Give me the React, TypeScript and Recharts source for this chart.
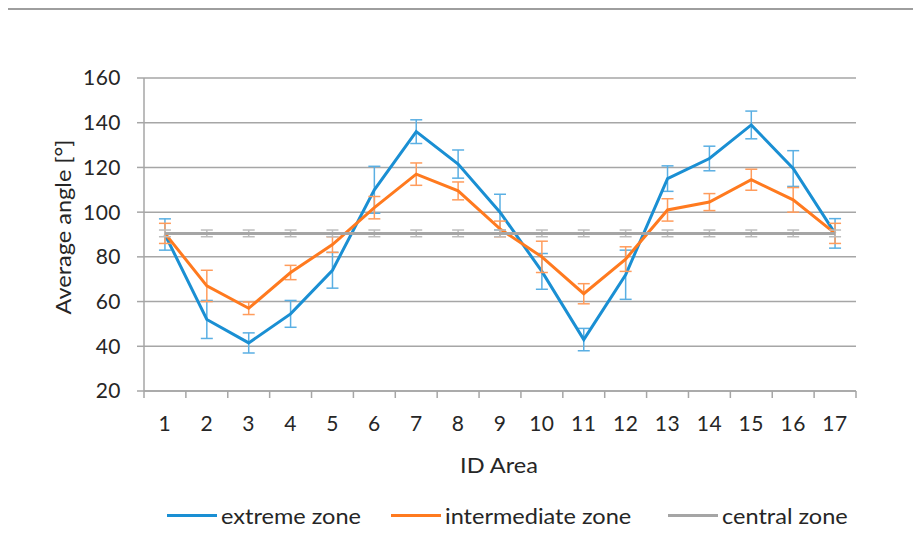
import React from 'react';
import { LineChart, Line, XAxis, YAxis, CartesianGrid, ErrorBar } from 'recharts';

// ID areas along the x axis
const areaIds = [1, 2, 3, 4, 5, 6, 7, 8, 9, 10, 11, 12, 13, 14, 15, 16, 17];

// average angle per zone, with the +/- error
const extremeZone = [90, 52, 41.5, 54.5, 74, 110, 136, 121.5, 100, 73.5, 43, 72, 115, 124, 139, 119.5, 90.5];
const extremeErr = [7, 8.5, 4.5, 6, 8, 10.5, 5.3, 6.3, 8, 8, 5, 11, 5.7, 5.5, 6.2, 8, 6.6];
const intermediateZone = [90.5, 67, 57, 73, 85.5, 102, 117, 109.5, 92.5, 80, 63.5, 79, 101, 104.5, 114.5, 105.5, 90.5];
const intermediateErr = [4.5, 7, 2.8, 3.2, 3.5, 5, 5, 4, 3.5, 7, 4.5, 5.5, 5, 3.8, 4.7, 5.5, 4.5];
const centralZone = [90.5, 90.5, 90.5, 90.5, 90.5, 90.5, 90.5, 90.5, 90.5, 90.5, 90.5, 90.5, 90.5, 90.5, 90.5, 90.5, 90.5];
const centralErr = [1.5, 1.5, 1.5, 1.5, 1.5, 1.5, 1.5, 1.5, 1.5, 1.5, 1.5, 1.5, 1.5, 1.5, 1.5, 1.5, 1.5];

const yTicks = [20, 40, 60, 80, 100, 120, 140, 160];
const boundaryTicks = [0.5, 1.5, 2.5, 3.5, 4.5, 5.5, 6.5, 7.5, 8.5, 9.5, 10.5, 11.5, 12.5, 13.5, 14.5, 15.5, 16.5, 17.5];

const legendItems = [
  { label: 'extreme zone', color: '#1a8fd3', left: 159 },
  { label: 'intermediate zone', color: '#ff7a1f', left: 383 },
  { label: 'central zone', color: '#a5a5a5', left: 660 },
];

const data = areaIds.map((id, i) => ({
  id,
  extreme: extremeZone[i],
  extremeErr: extremeErr[i],
  intermediate: intermediateZone[i],
  intermediateErr: intermediateErr[i],
  central: centralZone[i],
  centralErr: centralErr[i],
}));

const font = 'Lato, "Open Sans", sans-serif';
const axisGray = '#a6a6a6';
const textColor = '#262626';
const tickStyle = { fill: textColor, fontSize: 21, fontFamily: font, letterSpacing: 0.5 };

export default function App() {
  return (
    <div style={{ position: 'relative', width: 913, height: 551, fontFamily: font, background: '#fff' }}>
      <div style={{ position: 'absolute', top: 0, left: -1, width: 914, height: 2, background: '#9e9e9e' }} />
      <div style={{ position: 'absolute', top: 0, left: -1, width: 1, height: 551, background: '#e2e2e2' }} />

      <LineChart
        width={913}
        height={551}
        data={data}
        margin={{ top: 70, right: 65, bottom: 107, left: 0 }}
        style={{ position: 'absolute', top: 0, left: 0 }}
      >
        <CartesianGrid xAxisId="main" vertical={false} stroke={axisGray} strokeWidth={1.5} />
        <XAxis
          xAxisId="frame"
          type="number"
          dataKey="id"
          domain={[0.5, 17.5]}
          allowDataOverflow
          ticks={boundaryTicks}
          interval={0}
          height={1}
          tickFormatter={() => ''}
          stroke={axisGray}
          strokeWidth={1.5}
          tickSize={7}
        />
        <XAxis
          xAxisId="main"
          type="number"
          dataKey="id"
          domain={[0.5, 17.5]}
          allowDataOverflow
          ticks={areaIds}
          interval={0}
          height={60}
          axisLine={false}
          tickLine={false}
          tickSize={0}
          tickMargin={24}
          tick={tickStyle}
        />
        <YAxis
          domain={[20, 160]}
          ticks={yTicks}
          interval={0}
          width={136}
          stroke={axisGray}
          strokeWidth={1.5}
          tickSize={7}
          tickMargin={16}
          tick={tickStyle}
        />
        <Line xAxisId="main" type="linear" dataKey="extreme" stroke="#1a8fd3" strokeWidth={3} dot={false} isAnimationActive={false}>
          <ErrorBar dataKey="extremeErr" stroke="#5aafe3" strokeWidth={1.5} width={6} />
        </Line>
        <Line xAxisId="main" type="linear" dataKey="intermediate" stroke="#ff7a1f" strokeWidth={3} dot={false} isAnimationActive={false}>
          <ErrorBar dataKey="intermediateErr" stroke="#ff9c5c" strokeWidth={1.5} width={6} />
        </Line>
        <Line xAxisId="main" type="linear" dataKey="central" stroke="#a5a5a5" strokeWidth={3} dot={false} isAnimationActive={false}>
          <ErrorBar dataKey="centralErr" stroke="#bdbdbd" strokeWidth={1.5} width={6} />
        </Line>
      </LineChart>

      <div
        style={{
          position: 'absolute', left: 54, top: 219, transform: 'translate(-50%, -50%) rotate(-90deg) scaleX(1.12)',
          whiteSpace: 'nowrap', fontSize: 21, color: textColor,
        }}
      >
        Average angle [°]
      </div>
      <div
        style={{
          position: 'absolute', left: 491, top: 456, transform: 'translate(-50%, -50%) scaleX(1.12)',
          whiteSpace: 'nowrap', fontSize: 21, color: textColor,
        }}
      >
        ID Area
      </div>

      {legendItems.map((item) => (
        <div
          key={item.label}
          style={{
            position: 'absolute', left: item.left, top: 497, height: 20, display: 'flex', alignItems: 'center',
            fontSize: 21, color: textColor, whiteSpace: 'nowrap',
          }}
        >
          <span style={{ display: 'inline-block', width: 50, height: 3, background: item.color, marginRight: 4 }} />
          <span style={{ display: 'inline-block', transform: 'scaleX(1.12)', transformOrigin: 'left center' }}>
            {item.label}
          </span>
        </div>
      ))}
    </div>
  );
}
